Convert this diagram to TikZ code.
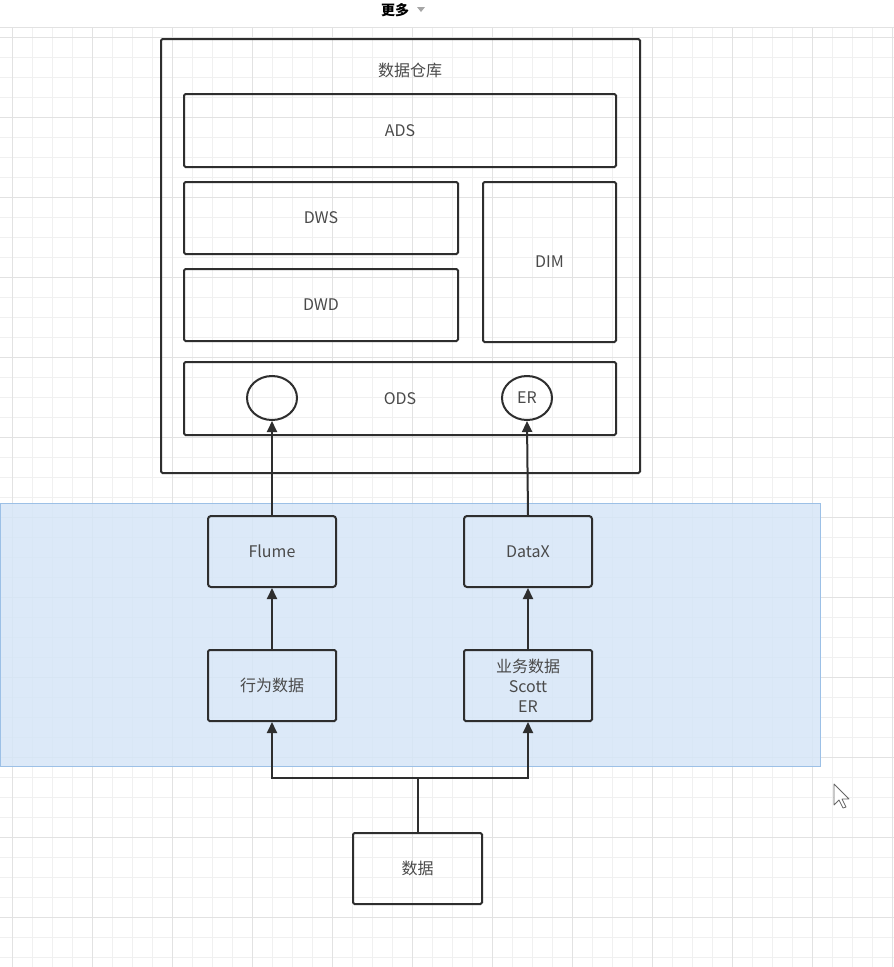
\documentclass[tikz,border=0pt]{standalone}
\usepackage{fontspec}
\setmainfont{Noto Sans CJK SC}
\usetikzlibrary{arrows.meta,shapes.geometric}
\definecolor{ink}{HTML}{2E2E2E}
\definecolor{txt}{HTML}{4A4A4A}
\definecolor{gridminor}{HTML}{F0F0F0}
\definecolor{gridmajor}{HTML}{E2E2E2}
\definecolor{selfill}{HTML}{D6E6F7}
\definecolor{selline}{HTML}{9CC0E6}
\tikzset{
  box/.style={draw=ink,line width=2pt,rounded corners=1.5pt,text=txt,anchor=north west,inner sep=0pt,align=center,font=\fontsize{16}{20}\selectfont},
  tool/.style={draw=ink,line width=2pt,rounded corners=3pt,text=txt,anchor=north west,inner sep=0pt,align=center,font=\fontsize{16}{20}\selectfont},
  ring/.style={draw=ink,line width=2pt,ellipse,minimum width=50pt,minimum height=44pt,inner sep=0pt,text=txt,font=\fontsize{16}{20}\selectfont},
  arr/.style={draw=ink,line width=2pt,-{Triangle[length=11pt,width=10pt]}}
}
\newcommand{\layer}[7][box]{\node[#1,minimum width=#5pt,minimum height=#6pt] (#2) at (#3,#4) {#7};}
\begin{document}
\begin{tikzpicture}[x=1pt,y=-1pt]
\useasboundingbox (0,0) rectangle (894,967);
\fill[white] (0,0) rectangle (894,967);
% grid
\foreach \x in {12,32,...,892}{\draw[gridminor,line width=1pt] (\x,28)--(\x,967);}
\foreach \y in {37,57,...,957}{\draw[gridminor,line width=1pt] (0,\y)--(894,\y);}
\foreach \x in {12,92,...,892}{\draw[gridmajor,line width=1pt] (\x,28)--(\x,967);}
\foreach \y in {37,117,...,917}{\draw[gridmajor,line width=1pt] (0,\y)--(894,\y);}
% toolbar
\fill[white] (0,0) rectangle (894,27);
\draw[gridmajor,line width=1pt] (0,27.5)--(894,27.5);
\node[font=\fontsize{14}{16}\selectfont\bfseries,text=black,inner sep=0pt] (more) at (395,10) {更多};
\fill[gray!70] (417,7)--(425,7)--(421,12)--cycle;
% selection
\fill[selfill,opacity=0.85] (0,503) rectangle (820,766);
\draw[selline,line width=1pt] (0,503) rectangle (820,766);
% warehouse
\layer[box]{dw}{160}{38}{479}{434}{}
\node[text=txt,font=\fontsize{16}{20}\selectfont] (dwtitle) at (410,70) {数据仓库};
\layer{ads}{183}{93}{432}{73}{ADS}
\layer{dws}{183}{181}{274}{72}{DWS}
\layer{dwd}{183}{268}{274}{72}{DWD}
\layer{dim}{482}{181}{133}{160}{DIM}
\layer{ods}{183}{361}{432}{73}{ODS}
\node[ring] (log) at (272,398) {};
\node[ring] (er) at (527,398) {ER};
% sources
\layer[tool]{flume}{207}{515}{128}{71}{Flume}
\layer[tool]{datax}{463}{515}{128}{71}{DataX}
\layer{act}{207}{649}{128}{71}{行为数据}
\layer{biz}{463}{649}{128}{71}{业务数据\\Scott\\ER}
\layer{data}{352}{832}{129}{71}{数据}
\path (data.north) ++(0,-54) coordinate (fork);
\draw[arr] (flume.north) -- (log.south);
\draw[arr] (datax.north) -- (er.south);
\draw[arr] (act.north) -- (flume.south);
\draw[arr] (biz.north) -- (datax.south);
\draw[arr] (data.north) -- (fork) -| (act.south);
\draw[arr] (fork) -| (biz.south);
% cursor
\draw[fill=white,draw=gray!80!black,line width=0.8pt,line join=round] (834,784)--(834,805)--(839,800)--(843,808)--(846,807)--(842,799)--(849,799)--cycle;
\end{tikzpicture}
\end{document}
